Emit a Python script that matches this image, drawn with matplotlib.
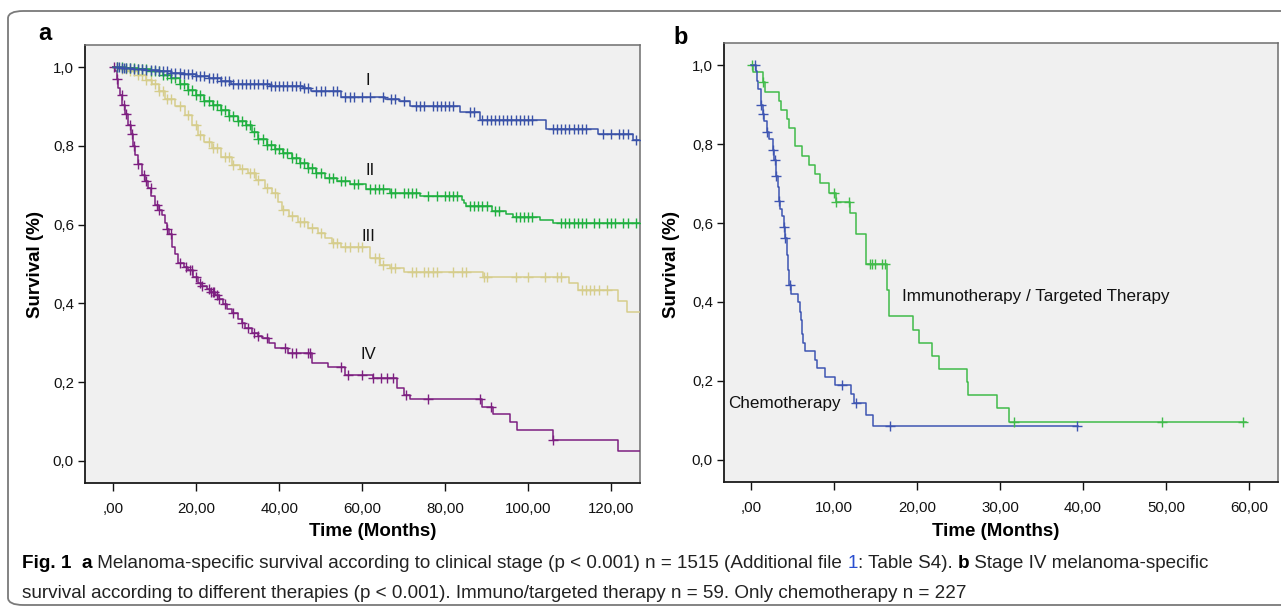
import numpy as np
import matplotlib
matplotlib.use("Agg")
import matplotlib.pyplot as plt
from matplotlib.ticker import FuncFormatter
from matplotlib.patches import FancyBboxPatch
from matplotlib import font_manager

# ---------------- data: panel a (clinical stage) ----------------
stage_labels = ["I", "II", "III", "IV"]

t_I = [0, 2, 5, 8, 11, 14, 17, 20, 23, 26, 28.5, 37.7, 45.8, 47.8, 55, 65.6, 69, 71.6,
       83.6, 88.4, 104.3, 116.9, 125.3]
s_I = [1.0, 0.998, 0.995, 0.992, 0.989, 0.986, 0.982, 0.977, 0.971, 0.964, 0.958, 0.952,
       0.946, 0.939, 0.925, 0.918, 0.913, 0.900, 0.887, 0.866, 0.844, 0.830, 0.815]
c_I = [1, 1.5, 2, 2.5, 3, 4, 5, 6, 7, 8, 9, 10, 11, 12, 13, 14, 15, 16, 17, 18, 19, 20, 21,
       22, 23, 24, 25, 26, 27, 28, 29, 30, 31, 32, 33, 34, 35, 36, 37, 38, 39, 40, 41, 42,
       43, 44, 45, 46, 47, 49, 50, 51, 53, 54, 56, 57, 58, 60, 62, 65, 67, 68, 70, 73, 74,
       75, 77, 78, 79, 80, 81, 82, 86, 87, 89, 90, 91, 92, 93, 94, 95, 96, 97, 98, 99, 100,
       101, 106, 107, 108, 109, 110, 111, 112, 113, 114, 118, 120, 122, 123, 124, 126]

t_II = [0, 3, 6, 9, 12, 14, 16, 18, 20, 22, 24, 26, 28, 30, 32, 33.5, 35, 37, 39, 41, 43,
        45, 47, 49, 51, 54, 57, 61, 66.7, 74, 84, 84.5, 85, 91.2, 94.8, 96.4, 102.9, 106]
s_II = [1.0, 0.997, 0.994, 0.989, 0.980, 0.972, 0.958, 0.942, 0.928, 0.915, 0.903, 0.890,
        0.876, 0.864, 0.852, 0.835, 0.818, 0.803, 0.792, 0.782, 0.770, 0.757, 0.744, 0.731,
        0.718, 0.710, 0.703, 0.690, 0.680, 0.673, 0.662, 0.655, 0.648, 0.635, 0.626, 0.620,
        0.612, 0.603]
c_II = [1, 2, 3, 4, 5, 6, 7, 8, 9, 10, 11, 12, 13, 14, 15, 16, 17, 18, 19, 20, 21, 22, 23,
        24, 25, 26, 27, 28, 29, 30, 31, 32, 33, 34, 35, 36, 37, 38, 39, 40, 41, 42, 43, 44,
        45, 46, 47, 48, 49, 50, 52, 53, 55, 56, 58, 59, 62, 63, 64, 65, 67, 68, 70, 71, 72,
        73, 76, 78, 80, 81, 82, 83, 86, 87, 88, 89, 90, 92, 93, 97, 98, 99, 100, 101, 108,
        109, 110, 111, 112, 113, 114, 116, 117, 119, 120, 121, 123, 124, 126]

t_III = [0, 1.5, 3.6, 6, 8, 9.4, 11, 12.5, 15, 17.3, 19, 20.5, 22, 23.9, 26, 28.7, 30.5,
         32.5, 34.5, 36.6, 38.3, 39.8, 40.7, 42.5, 44.6, 47, 49.4, 51, 52.8, 55, 62, 64.3,
         66.7, 70, 89.2, 110, 112, 121.7, 123.9]
s_III = [1.0, 0.996, 0.990, 0.980, 0.968, 0.956, 0.940, 0.920, 0.900, 0.878, 0.852, 0.828,
         0.810, 0.794, 0.772, 0.751, 0.742, 0.731, 0.712, 0.693, 0.680, 0.658, 0.637, 0.622,
         0.607, 0.592, 0.579, 0.566, 0.553, 0.544, 0.515, 0.497, 0.490, 0.480, 0.468, 0.451,
         0.434, 0.407, 0.379]
c_III = [1, 2, 3, 4, 5, 6, 7, 8, 9, 10, 11, 12, 13, 14, 16, 18, 20, 21, 23, 24, 25, 27,
         28, 29, 31, 33, 34, 35, 37, 39, 41, 43, 45, 46, 48, 50, 53, 54, 56, 57, 59, 60, 63,
         64, 65, 67, 68, 72, 73, 75, 76, 77, 78, 82, 84, 85, 89.5, 90, 97, 100, 104, 107,
         108, 113, 114, 115, 116, 117, 119]

t_IV = [0, 0.5, 0.8, 1.2, 1.6, 2.2, 2.8, 3.6, 4.2, 4.8, 5.3, 6.0, 7.0, 7.7, 8.4, 9.2, 10.1,
        11.0, 11.8, 12.5, 13.0, 13.5, 14.2, 14.8, 15.7, 17, 18.1, 19.3, 20.5, 21.5, 22.5,
        23.5, 24.6, 25.5, 26.5, 27.5, 28.7, 30, 31, 31.8, 33.5, 35, 35.9, 37.5, 39, 42.2,
        48, 51.8, 55.9, 62.7, 68.5, 70, 71.6, 88.9, 91.6, 95.7, 97.3, 106, 121.7]
s_IV = [1.0, 0.990, 0.970, 0.946, 0.930, 0.904, 0.880, 0.853, 0.830, 0.800, 0.777, 0.755,
        0.726, 0.710, 0.693, 0.672, 0.650, 0.636, 0.624, 0.603, 0.590, 0.575, 0.544, 0.525,
        0.502, 0.492, 0.485, 0.468, 0.451, 0.443, 0.436, 0.428, 0.421, 0.410, 0.398, 0.387,
        0.375, 0.360, 0.350, 0.338, 0.325, 0.318, 0.311, 0.300, 0.287, 0.274, 0.249, 0.239,
        0.218, 0.210, 0.185, 0.168, 0.157, 0.138, 0.119, 0.099, 0.079, 0.053, 0.026]
c_IV = [0.3, 1, 2, 2.5, 3, 4, 4.5, 5, 6, 7.5, 8, 9, 10.5, 11, 13, 14, 16, 17.5, 18.5, 19,
        20, 21, 21.5, 23, 23.5, 24, 24.3, 25, 25.5, 27, 29, 31, 32.5, 34, 35, 37, 41.5, 43,
        44, 47, 47.5, 55, 56.5, 60, 62.7, 64.5, 66, 67.5, 70.5, 76, 88.5, 91, 106]

end_a = 127.0

# ---------------- data: panel b (therapies) ----------------
therapy_labels = ["Immunotherapy / Targeted Therapy", "Chemotherapy"]

t_immuno = [0, 0.3, 1.4, 1.65, 3.35, 3.6, 4.3, 4.6, 5.3, 6.2, 7.05, 7.7, 8.3, 9.4, 10.2,
            11.9, 12.6, 13.8, 16.4, 16.6, 19.5, 20.3, 21.8, 22.7, 26.0, 26.2, 29.7, 31.1]
s_immuno = [1.0, 0.983, 0.956, 0.932, 0.909, 0.886, 0.863, 0.840, 0.794, 0.771, 0.747,
            0.723, 0.701, 0.677, 0.653, 0.626, 0.573, 0.495, 0.430, 0.364, 0.330, 0.296,
            0.262, 0.231, 0.198, 0.165, 0.131, 0.097]
c_immuno = [0.15, 1.5, 10.0, 10.3, 11.8, 14.3, 14.6, 15.0, 15.8, 16.1, 31.7, 49.5, 59.3]
end_immuno = 59.6

t_chemo = [0, 0.6, 0.75, 0.9, 1.15, 1.4, 1.6, 1.9, 2.2, 2.6, 2.8, 3.0, 3.2, 3.35, 3.55,
           3.75, 3.95, 4.1, 4.3, 4.45, 4.6, 4.8, 5.7, 5.85, 6.0, 6.15, 6.3, 6.55, 7.7, 7.9,
           8.9, 10.1, 12.1, 12.45, 13.9, 14.65]
s_chemo = [1.0, 0.985, 0.960, 0.940, 0.900, 0.876, 0.859, 0.830, 0.812, 0.785, 0.760,
           0.720, 0.690, 0.656, 0.635, 0.618, 0.590, 0.563, 0.520, 0.480, 0.442, 0.419,
           0.399, 0.375, 0.355, 0.320, 0.297, 0.275, 0.254, 0.233, 0.211, 0.190, 0.167,
           0.144, 0.114, 0.085]
c_chemo = [0.5, 1.2, 1.45, 1.95, 2.65, 2.95, 3.05, 3.4, 4.0, 4.15, 4.65, 11.0, 12.6, 16.8, 39.3]
end_chemo = 39.4

# ---------------- styling ----------------
W, H = 1281, 609
fig = plt.figure(figsize=(W / 100, H / 100), dpi=100)
fig.patch.set_facecolor("white")


def has_font(name):
    try:
        font_manager.findfont(font_manager.FontProperties(family=name), fallback_to_default=False)
        return True
    except Exception:
        return False


plot_font = "Liberation Sans" if has_font("Liberation Sans") else "DejaVu Sans"
cap_font = "Liberation Sans Narrow" if has_font("Liberation Sans Narrow") else plot_font
plt.rcParams["font.family"] = [plot_font, "DejaVu Sans"]

# outer rounded frame
frame = FancyBboxPatch((8 / W, 1 - 605 / H), (W + 20 - 8) / W, (605 - 11) / H,
                       boxstyle="round,pad=0,rounding_size=0.012",
                       transform=fig.transFigure, facecolor="none",
                       edgecolor="#7a7a7a", linewidth=1.3, zorder=0)
fig.patches.append(frame)


def make_axes(left, right, top, bottom):
    return fig.add_axes([left / W, 1 - bottom / H, (right - left) / W, (bottom - top) / H])


def style_axes(ax, xmax_tick, xstep, xlim, ylim):
    ax.set_facecolor("#f0f0f0")
    ax.set_xlim(*xlim)
    ax.set_ylim(*ylim)
    ax.set_xticks(np.arange(0, xmax_tick + 0.1, xstep))
    ax.set_yticks([0, 0.2, 0.4, 0.6, 0.8, 1.0])
    ax.xaxis.set_major_formatter(FuncFormatter(
        lambda v, p: ",00" if abs(v) < 1e-9 else f"{v:.2f}".replace(".", ",")))
    ax.yaxis.set_major_formatter(FuncFormatter(lambda v, p: f"{v:.1f}".replace(".", ",")))
    ax.tick_params(axis="x", direction="out", length=6, width=1, pad=8, labelsize=10.8,
                   colors="#111111")
    ax.tick_params(axis="y", direction="out", length=5, width=1, pad=3, labelsize=10.8,
                   colors="#111111")
    for s in ("left", "bottom"):
        ax.spines[s].set_color("#1a1a1a")
        ax.spines[s].set_linewidth(1.3)
    for s in ("top", "right"):
        ax.spines[s].set_color("#6e6e6e")
        ax.spines[s].set_linewidth(1.1)


def step_value(times, surv, t):
    idx = np.searchsorted(np.asarray(times), np.asarray(t), side="right") - 1
    return np.asarray(surv)[idx]


def km(ax, times, surv, cens, t_end, color, ms=6.5):
    x = list(times) + [t_end]
    y = list(surv) + [surv[-1]]
    ax.plot(x, y, drawstyle="steps-post", color=color, lw=1.1, zorder=3)
    cy = step_value(times, surv, cens)
    ax.plot(cens, cy, linestyle="none", marker="+", markersize=ms, markeredgewidth=1.0,
            color=color, zorder=4)


# ---------------- panel a ----------------
axa = make_axes(85, 640, 45, 483)
style_axes(axa, 120, 20, (-6.8, 127), (-0.056, 1.056))
col_I, col_II, col_III, col_IV = "#3a52a8", "#20b040", "#d6cd8c", "#7d1f80"
km(axa, t_III, s_III, c_III, end_a, col_III)
km(axa, t_IV, s_IV, c_IV, end_a, col_IV)
km(axa, t_II, s_II, c_II, end_a, col_II)
km(axa, t_I, s_I, c_I, end_a, col_I)

label_pos_a = [(61.5, 0.966), (62.0, 0.737), (61.5, 0.569), (61.5, 0.269)]
for lab, (lx, ly) in zip(stage_labels, label_pos_a):
    axa.text(lx, ly, lab, fontsize=12, ha="center", va="center", color="#111111")

fig.text(45 / W, 1 - 33 / H, "a", fontsize=17, fontweight="bold", ha="center", va="center")
fig.text(36 / W, 1 - 264 / H, "Survival (%)", fontsize=13.5, fontweight="bold",
         rotation=90, ha="center", va="center")
fig.text(373 / W, 1 - 532 / H, "Time (Months)", fontsize=13.5, fontweight="bold",
         ha="center", va="center")

# ---------------- panel b ----------------
axb = make_axes(724, 1278, 43, 482)
style_axes(axb, 60, 10, (-3.25, 63.5), (-0.056, 1.056))
col_immuno, col_chemo = "#40bb4a", "#3e55b2"
km(axb, t_immuno, s_immuno, c_immuno, end_immuno, col_immuno, ms=7.5)
km(axb, t_chemo, s_chemo, c_chemo, end_chemo, col_chemo, ms=7.5)

axb.text(18.2, 0.414, therapy_labels[0], fontsize=12.3, ha="left", va="center",
         color="#111111")
axb.text(-2.7, 0.142, therapy_labels[1], fontsize=12.3, ha="left", va="center",
         color="#111111")

fig.text(681 / W, 1 - 38 / H, "b", fontsize=17, fontweight="bold", ha="center", va="center")
fig.text(671 / W, 1 - 264 / H, "Survival (%)", fontsize=13.5, fontweight="bold",
         rotation=90, ha="center", va="center")
fig.text(996 / W, 1 - 532 / H, "Time (Months)", fontsize=13.5, fontweight="bold",
         ha="center", va="center")

# ---------------- caption ----------------
cap_line1 = [("Fig. 1", "bold", "black"), ("  ", "normal", "black"), ("a", "bold", "black"),
             (" Melanoma-specific survival according to clinical stage (p < 0.001) n = 1515 "
              "(Additional file ", "normal", "#222222"),
             ("1", "normal", "#2a4fd0"),
             (": Table S4). ", "normal", "#222222"), ("b", "bold", "black"),
             (" Stage IV melanoma-specific", "normal", "#222222")]
cap_line2 = [("survival according to different therapies (p < 0.001). Immuno/targeted therapy "
              "n = 59. Only chemotherapy n = 227", "normal", "#222222")]

renderer = fig.canvas.get_renderer()


def draw_line(pieces, x0, yc, size):
    texts = []
    x = x0
    for txt, wt, colr in pieces:
        t = fig.text(x / W, 1 - yc / H, txt, fontsize=size, fontweight=wt, color=colr,
                     ha="left", va="center", family=[cap_font, "DejaVu Sans"])
        x += t.get_window_extent(renderer).width
        texts.append(t)
    return texts, x - x0


trial, width = draw_line(cap_line1, 22, 564, 12)
for t in trial:
    t.remove()
cap_size = 12 * (1196 / width)
draw_line(cap_line1, 22, 564, cap_size)
draw_line(cap_line2, 22, 593, cap_size)

fig.savefig("out.png", dpi=100)
